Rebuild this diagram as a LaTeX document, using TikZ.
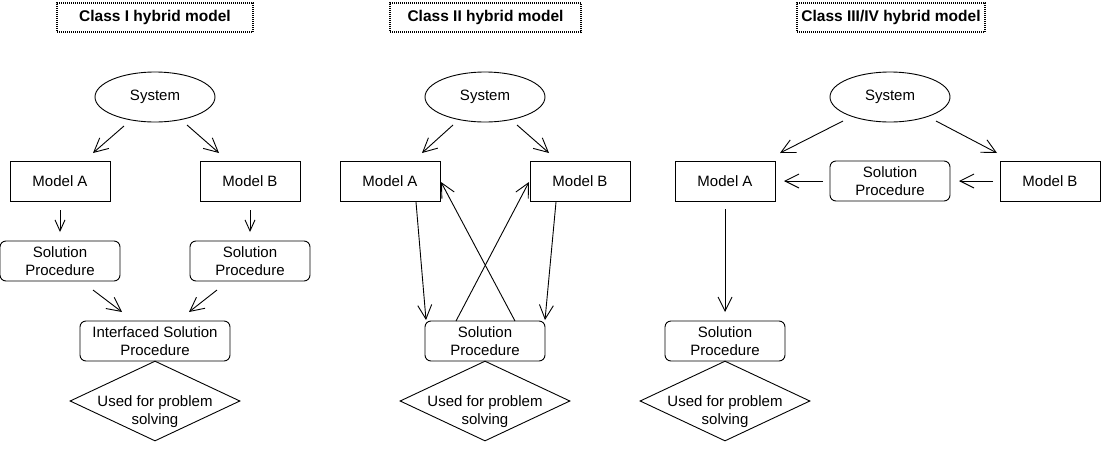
\documentclass[tikz,border=0pt]{standalone}
\usepackage{fontspec}
\setmainfont{Liberation Sans}
\usetikzlibrary{arrows.meta,shapes.geometric,calc}
\begin{document}
\begin{tikzpicture}[x=1pt,y=-1pt,
  every node/.style={font=\fontsize{15}{18}\selectfont, align=center, inner sep=0pt},
  box/.style={draw, line width=0.9pt, minimum width=100pt, minimum height=40pt},
  rbox/.style={draw, line width=0.9pt, rounded corners=6pt, minimum width=120pt, minimum height=40pt},
  sysell/.style={draw, ellipse, line width=0.9pt, minimum width=120pt, minimum height=50pt},
  dia/.style={draw, diamond, aspect=2.125, line width=0.9pt, minimum width=170pt, minimum height=80pt},
  titlebox/.style={draw, dash pattern=on 1pt off 1pt, line width=1.4pt, minimum height=29pt, font=\fontsize{15.5}{18}\selectfont\bfseries},
  arr/.style={line width=0.9pt, -{Straight Barb[length=14pt,width=14pt]}},
  arrs/.style={line width=0.9pt, -{Straight Barb[length=11pt,width=10pt]}},
]
\useasboundingbox (0,0) rectangle (1101,464);

% titles
\node[titlebox, minimum width=196pt] (t1) at (155,17.5) {Class I hybrid model};
\node[titlebox, minimum width=191pt] (t2) at (485.5,17.5) {Class II hybrid model};
\node[titlebox, minimum width=188pt] (t3) at (891,17.5) {Class III/IV hybrid model};

% panel I
\node[sysell] (sys1) at (155,97) {System};
\node[box] (ma1) at (60,181) {Model A};
\node[box] (mb1) at (250,181) {Model B};
\node[rbox] (sa1) at (60,261) {Solution\\Procedure};
\node[rbox] (sb1) at (250,261) {Solution\\Procedure};
\node[rbox, minimum width=150pt] (ip1) at (155,341) {Interfaced Solution\\Procedure};
\node[dia] (d1) at (155,401) {};
\node (d1t) at (155,412) {Used for problem\\solving};

% panel II
\node[sysell] (sys2) at (485,97) {System};
\node[box] (ma2) at (390,181) {Model A};
\node[box] (mb2) at (580,181) {Model B};
\node[rbox] (sp2) at (485,341) {Solution\\Procedure};
\node[dia] (d2) at (485,401) {};
\node (d2t) at (485,412) {Used for problem\\solving};

% panel III/IV
\node[sysell] (sys3) at (890,97) {System};
\node[box] (ma3) at (725,181) {Model A};
\node[rbox] (sp3a) at (890,181) {Solution\\Procedure};
\node[box] (mb3) at (1050,181) {Model B};
\node[rbox] (sp3b) at (725,341) {Solution\\Procedure};
\node[dia] (d3) at (725,401) {};
\node (d3t) at (725,412) {Used for problem\\solving};

% connectors panel I
\draw[arr] ($(sys1)+(-31,29)$) -- ($(ma1)+(33,-28)$);
\draw[arr] ($(sys1)+(32,28)$) -- ($(mb1)+(-31,-28)$);
\draw[arrs] ($(ma1)+(0,29)$) -- ($(sa1)+(0,-29)$);
\draw[arrs] ($(mb1)+(0,29)$) -- ($(sb1)+(0,-29)$);
\draw[arr] ($(sa1)+(33,29)$) -- ($(ip1)+(-33,-29)$);
\draw[arr] ($(sb1)+(-33,29)$) -- ($(ip1)+(34,-29)$);

% connectors panel II
\draw[arr] ($(sys2)+(-32,28)$) -- ($(ma2)+(32,-28)$);
\draw[arr] ($(sys2)+(32,28)$) -- ($(mb2)+(-31,-28)$);
\draw[arr] ($(ma2)+(26,21)$) -- ($(sp2)+(-59,-21)$);
\draw[arr] ($(mb2)+(-24,21)$) -- ($(sp2)+(60,-21)$);
\draw[arr] ($(sp2)+(30,-20)$) -- ($(ma2)+(51,1)$);
\draw[arr] ($(sp2)+(-29,-20)$) -- ($(mb2)+(-51,1)$);

% connectors panel III/IV
\draw[arr] ($(sys3)+(-47,24)$) -- ($(ma3)+(55,-28)$);
\draw[arr] ($(sys3)+(46,24)$) -- ($(mb3)+(-53,-28)$);
\draw[arr] ($(sp3a)+(-67,0)$) -- ($(ma3)+(59,0)$);
\draw[arr] ($(mb3)+(-57,0)$) -- ($(sp3a)+(69,0)$);
\draw[arr] ($(ma3)+(0,28)$) -- ($(sp3b)+(0,-29)$);
\end{tikzpicture}
\end{document}
